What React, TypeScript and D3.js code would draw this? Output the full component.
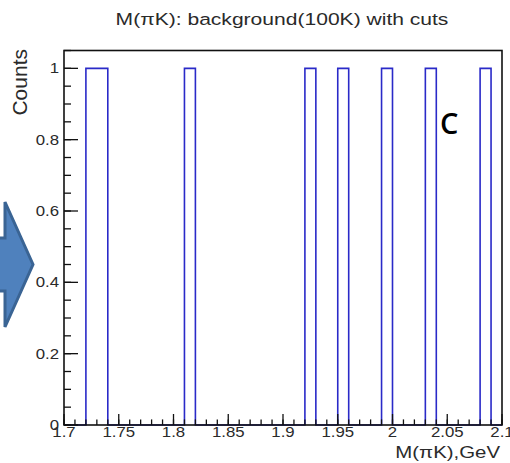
import React from "react";
import * as d3 from "d3";

// Histogram: 40 bins of width 0.01 from 1.70 to 2.10
const binStart = 1.7;
const binWidth = 0.01;
const counts = [
  0, 0, 1, 1, 0, 0, 0, 0, 0, 0,
  0, 1, 0, 0, 0, 0, 0, 0, 0, 0,
  0, 0, 1, 0, 0, 1, 0, 0, 0, 1,
  0, 0, 0, 1, 0, 0, 0, 0, 1, 0,
];
const xMajorTicks = [1.7, 1.75, 1.8, 1.85, 1.9, 1.95, 2.0, 2.05, 2.1];
const xTickLabels = ["1.7", "1.75", "1.8", "1.85", "1.9", "1.95", "2", "2.05", "2.1"];
const yMajorTicks = [0, 0.2, 0.4, 0.6, 0.8, 1];
const yTickLabels = ["0", "0.2", "0.4", "0.6", "0.8", "1"];
const title = "M(\u03c0K): background(100K) with cuts";
const xTitle = "M(\u03c0K),GeV";
const yTitle = "Counts";
const annotation = "C";

const W = 510;
const H = 463;
const L = 64, R = 502, T = 50.5, B = 425;

export default function App() {
  const x = d3.scaleLinear().domain([1.7, 2.1]).range([L, R]);
  const y = d3.scaleLinear().domain([0, 1.05]).range([B, T]);

  const pts: [number, number][] = [[binStart, 0]];
  counts.forEach((c, i) => {
    const lo = binStart + i * binWidth;
    pts.push([lo, c], [lo + binWidth, c]);
  });
  pts.push([binStart + counts.length * binWidth, 0]);
  const line = d3
    .line<[number, number]>()
    .x((d) => x(d[0]))
    .y((d) => y(d[1]));

  const xMinor = d3.range(0, 41).map((i) => 1.7 + i * 0.01);
  const yMinor = d3.range(0, 22).map((i) => i * 0.05);

  const font = "'Liberation Sans', Arial, sans-serif";
  const textCol = "#2a2a2a";

  return (
    <svg
      width={W}
      height={H}
      style={{ position: "absolute", left: 0, top: 0, background: "#fff" }}
    >
      {/* blue arrow */}
      <polygon
        points="-4,238 5,238 5,202 33,264.5 5,327 5,291 -4,291"
        fill="#4f81bd"
        stroke="#3a6494"
        strokeWidth={3}
        strokeLinejoin="miter"
      />
      {/* title */}
      <text
        transform="translate(282,25) scale(1.24,1)"
        textAnchor="middle"
        fontFamily={font}
        fontSize={17}
        fill={textCol}
      >
        {title}
      </text>
      {/* histogram */}
      <path d={line(pts) || ""} fill="none" stroke="#2a2ac8" strokeWidth={1.6} />
      {/* frame */}
      <rect x={L} y={T} width={R - L} height={B - T} fill="none" stroke="#111" strokeWidth={1.6} />
      {/* x ticks */}
      {xMinor.map((v, i) => (
        <line key={"xm" + i} x1={x(v)} x2={x(v)} y1={B} y2={B - 5.6} stroke="#111" strokeWidth={1.3} />
      ))}
      {xMajorTicks.map((v, i) => (
        <line key={"xM" + i} x1={x(v)} x2={x(v)} y1={B} y2={B - 11} stroke="#111" strokeWidth={1.3} />
      ))}
      {xMajorTicks.map((v, i) => (
        <text
          key={"xl" + i}
          transform={`translate(${x(v)},437) scale(1.2,1)`}
          textAnchor="middle"
          fontFamily={font}
          fontSize={14}
          fill={textCol}
        >
          {xTickLabels[i]}
        </text>
      ))}
      {/* y ticks */}
      {yMinor.map((v, i) => (
        <line key={"ym" + i} x1={L} x2={L + 7} y1={y(v)} y2={y(v)} stroke="#111" strokeWidth={1.3} />
      ))}
      {yMajorTicks.map((v, i) => (
        <line key={"yM" + i} x1={L} x2={L + 14} y1={y(v)} y2={y(v)} stroke="#111" strokeWidth={1.3} />
      ))}
      {yMajorTicks.map((v, i) => (
        <text
          key={"yl" + i}
          transform={`translate(59,${y(v) + 5}) scale(1.2,1)`}
          textAnchor="end"
          fontFamily={font}
          fontSize={14}
          fill={textCol}
        >
          {yTickLabels[i]}
        </text>
      ))}
      {/* axis titles */}
      <text
        transform="translate(500,458) scale(1.2,1)"
        textAnchor="end"
        fontFamily={font}
        fontSize={17}
        fill={textCol}
      >
        {xTitle}
      </text>
      <text
        transform="translate(27,49) rotate(-90)"
        textAnchor="end"
        fontFamily={font}
        fontSize={21}
        fill={textCol}
      >
        {yTitle}
      </text>
      {/* annotation */}
      <text x={440} y={134} fontFamily="'Open Sans', sans-serif" fontWeight={600} fontSize={29} fill="#000">
        {annotation}
      </text>
    </svg>
  );
}
